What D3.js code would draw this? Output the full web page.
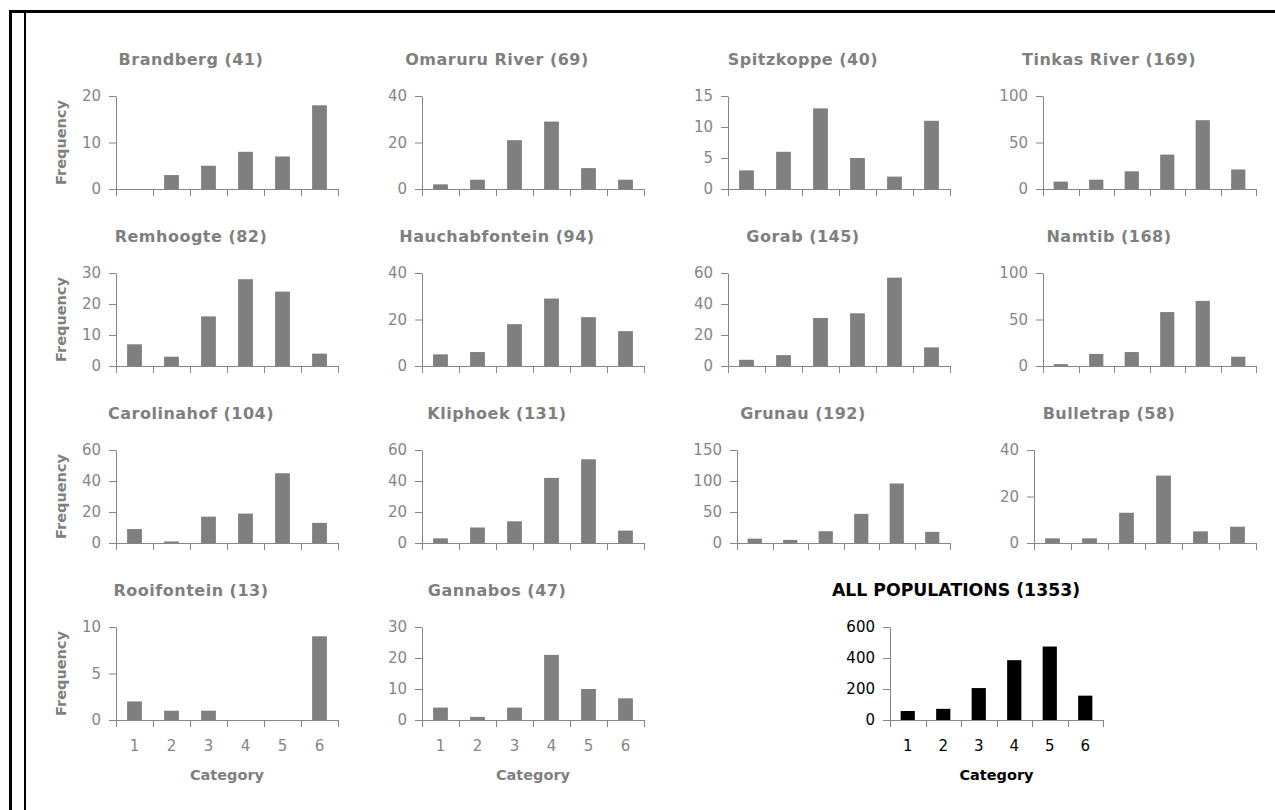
<!DOCTYPE html>
<html>
<head>
<meta charset="utf-8">
<script src="https://cdn.jsdelivr.net/npm/d3@7"></script>
<style>
  html, body { margin: 0; padding: 0; background: #fff; }
  svg { display: block; }
</style>
</head>
<body>
<svg id="chart" width="1275" height="810"></svg>
<script>
// Category frequency histograms per population
const categories = [1, 2, 3, 4, 5, 6];

const populations = [
  "Brandberg", "Omaruru River", "Spitzkoppe", "Tinkas River",
  "Remhoogte", "Hauchabfontein", "Gorab", "Namtib",
  "Carolinahof", "Kliphoek", "Grunau", "Bulletrap",
  "Rooifontein", "Gannabos"
];

const brandberg      = [0, 3, 5, 8, 7, 18];
const omaruruRiver   = [2, 4, 21, 29, 9, 4];
const spitzkoppe     = [3, 6, 13, 5, 2, 11];
const tinkasRiver    = [8, 10, 19, 37, 74, 21];
const remhoogte      = [7, 3, 16, 28, 24, 4];
const hauchabfontein = [5, 6, 18, 29, 21, 15];
const gorab          = [4, 7, 31, 34, 57, 12];
const namtib         = [2, 13, 15, 58, 70, 10];
const carolinahof    = [9, 1, 17, 19, 45, 13];
const kliphoek       = [3, 10, 14, 42, 54, 8];
const grunau         = [7, 5, 19, 47, 96, 18];
const bulletrap      = [2, 2, 13, 29, 5, 7];
const rooifontein    = [2, 1, 1, 0, 0, 9];
const gannabos       = [4, 1, 4, 21, 10, 7];
const allPopulations = [58, 72, 206, 386, 474, 157];

const frequencies = [
  brandberg, omaruruRiver, spitzkoppe, tinkasRiver,
  remhoogte, hauchabfontein, gorab, namtib,
  carolinahof, kliphoek, grunau, bulletrap,
  rooifontein, gannabos
];

// y-axis tick labels for each panel
const yTickValues = [
  [0, 10, 20], [0, 20, 40], [0, 5, 10, 15], [0, 50, 100],
  [0, 10, 20, 30], [0, 20, 40], [0, 20, 40, 60], [0, 50, 100],
  [0, 20, 40, 60], [0, 20, 40, 60], [0, 50, 100, 150], [0, 20, 40],
  [0, 5, 10], [0, 10, 20, 30]
];
const allTickValues = [0, 200, 400, 600];

const svg = d3.select("#chart");

// page frame
const frame = svg.append("g").attr("stroke", "#000").attr("fill", "none");
frame.append("line").attr("x1", 9).attr("x2", 1275).attr("y1", 11.5).attr("y2", 11.5).attr("stroke-width", 3);
frame.append("line").attr("x1", 10.5).attr("x2", 10.5).attr("y1", 10).attr("y2", 810).attr("stroke-width", 3);
frame.append("line").attr("x1", 25).attr("x2", 25).attr("y1", 12).attr("y2", 810).attr("stroke-width", 2);

const FONT = "'DejaVu Sans', sans-serif";
const plotH = 93;

function drawPanel(opts) {
  const { title, values, ticks, right, top, col, row, dark } = opts;
  const textColor = dark ? "#000" : "#7f7f7f";
  const tickColor = dark ? "#000" : "#868686";
  const barColor = dark ? "#000" : "#7f7f7f";
  const lineColor = "#868686";

  const digits = String(d3.max(ticks)).length;
  const left = right - 222 + (digits - 2) * 9;
  const bottom = top + plotH;

  const g = svg.append("g");

  const x = d3.scaleBand().domain(categories).range([left, right])
    .paddingInner(0.6).paddingOuter(0.3);
  const xEdge = d3.scaleLinear().domain([0, categories.length]).range([left, right]);
  const y = d3.scaleLinear().domain([0, d3.max(ticks)]).range([bottom, top]);

  // bars
  g.append("g").selectAll("rect")
    .data(values)
    .join("rect")
    .attr("x", (d, i) => x(categories[i]))
    .attr("width", x.bandwidth())
    .attr("y", d => y(d))
    .attr("height", d => y(0) - y(d))
    .attr("fill", barColor);

  // y axis
  const yAxis = g.append("g")
    .attr("transform", `translate(${left},0)`)
    .call(d3.axisLeft(y).tickValues(ticks).tickSize(7).tickPadding(8).tickSizeOuter(0));
  yAxis.select(".domain").attr("stroke", lineColor);
  yAxis.selectAll(".tick line").attr("stroke", lineColor);
  yAxis.selectAll(".tick text")
    .attr("fill", tickColor)
    .style("font-family", FONT)
    .style("font-size", "15px");

  // x axis baseline with ticks between categories
  g.append("line")
    .attr("x1", left).attr("x2", right)
    .attr("y1", bottom + 0.5).attr("y2", bottom + 0.5)
    .attr("stroke", lineColor);
  g.append("g").selectAll("line")
    .data(d3.range(categories.length + 1))
    .join("line")
    .attr("x1", d => Math.round(xEdge(d)) + 0.5)
    .attr("x2", d => Math.round(xEdge(d)) + 0.5)
    .attr("y1", bottom)
    .attr("y2", bottom + 7)
    .attr("stroke", lineColor);

  // title
  g.append("text")
    .attr("x", right - 147)
    .attr("y", top - 31)
    .attr("text-anchor", "middle")
    .attr("fill", textColor)
    .style("font-family", FONT)
    .style("font-weight", "bold")
    .style("font-size", dark ? "17.3px" : "16px")
    .style("letter-spacing", dark ? "0px" : "0.5px")
    .text(`${title} (${d3.sum(values)})`);

  // "Frequency" on the first column
  if (col === 0) {
    g.append("text")
      .attr("transform", `translate(${66},${top + plotH / 2}) rotate(-90)`)
      .attr("text-anchor", "middle")
      .attr("fill", textColor)
      .style("font-family", FONT)
      .style("font-weight", "bold")
      .style("font-size", "14.5px")
      .text("Frequency");
  }

  // category labels on the bottom row
  if (row === 3) {
    g.append("g").selectAll("text")
      .data(categories)
      .join("text")
      .attr("x", d => x(d) + x.bandwidth() / 2)
      .attr("y", bottom + 31)
      .attr("text-anchor", "middle")
      .attr("fill", tickColor)
      .style("font-family", FONT)
      .style("font-size", "15px")
      .text(d => d);
    g.append("text")
      .attr("x", (left + right) / 2)
      .attr("y", bottom + 60)
      .attr("text-anchor", "middle")
      .attr("fill", textColor)
      .style("font-family", FONT)
      .style("font-weight", "bold")
      .style("font-size", "14.5px")
      .text("Category");
  }
}

populations.forEach((name, i) => {
  const row = Math.floor(i / 4), col = i % 4;
  drawPanel({
    title: name,
    values: frequencies[i],
    ticks: yTickValues[i],
    right: 338 + col * 306,
    top: 96 + row * 177,
    col, row, dark: false
  });
});

drawPanel({
  title: "ALL POPULATIONS",
  values: allPopulations,
  ticks: allTickValues,
  right: 1103,
  top: 96 + 3 * 177,
  col: 3, row: 3, dark: true
});
</script>
</body>
</html>
